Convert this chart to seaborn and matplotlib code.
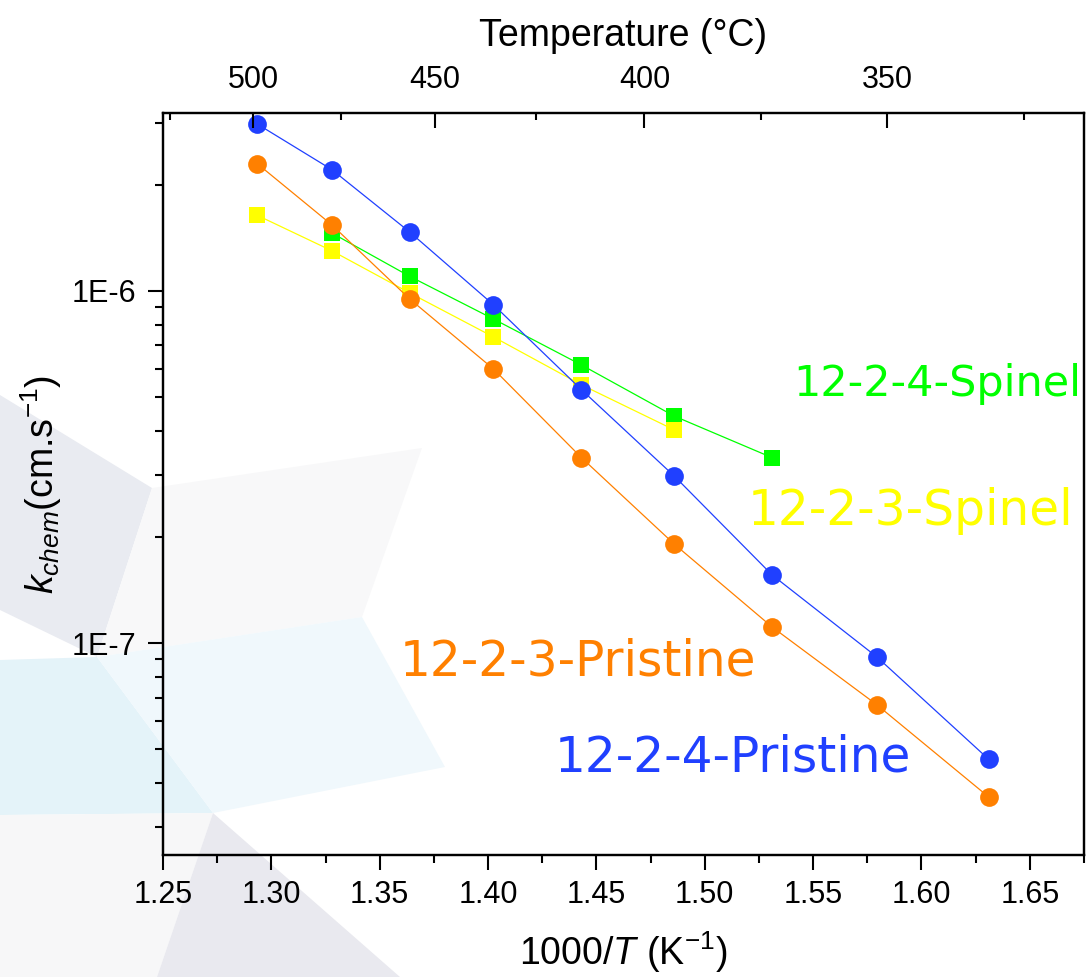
import numpy as np
import pandas as pd
import matplotlib
matplotlib.use("Agg")
import matplotlib.pyplot as plt
import seaborn as sns
from matplotlib.patches import Polygon
from matplotlib.ticker import FixedLocator, FixedFormatter, NullFormatter, LogLocator

# ---------------- data ----------------
inv_T = [1.2934, 1.3279, 1.3638, 1.4025, 1.4431, 1.4859, 1.5311, 1.5795, 1.6311]
k_124_pristine = [2.98e-6, 2.21e-6, 1.47e-6, 9.13e-7, 5.24e-7, 2.98e-7, 1.56e-7, 9.12e-8, 4.67e-8]
k_123_pristine = [2.30e-6, 1.54e-6, 9.49e-7, 6.00e-7, 3.36e-7, 1.91e-7, 1.11e-7, 6.67e-8, 3.65e-8]
inv_T_124_spinel = [1.3279, 1.3638, 1.4025, 1.4431, 1.4859, 1.5311]
k_124_spinel = [1.46e-6, 1.10e-6, 8.32e-7, 6.16e-7, 4.41e-7, 3.36e-7]
inv_T_123_spinel = [1.2934, 1.3279, 1.3638, 1.4025, 1.4431, 1.4859]
k_123_spinel = [1.64e-6, 1.30e-6, 9.87e-7, 7.40e-7, 5.41e-7, 4.03e-7]

x_ticks = [1.25, 1.30, 1.35, 1.40, 1.45, 1.50, 1.55, 1.60, 1.65]
y_ticks = [1e-7, 1e-6]
y_tick_labels = ["1E-7", "1E-6"]
temp_major = [500, 450, 400, 350]
temp_minor = [525, 475, 425, 375, 325]

series_names = ["12-2-4-Spinel", "12-2-3-Spinel", "12-2-3-Pristine", "12-2-4-Pristine"]
colors = {"12-2-4-Spinel": "#00ff00", "12-2-3-Spinel": "#ffff00",
          "12-2-3-Pristine": "#ff8000", "12-2-4-Pristine": "#2040ff"}

# ---------------- style ----------------
sns.set_theme(style="ticks")
plt.rcParams["font.family"] = ["Liberation Sans", "DejaVu Sans"]
plt.rcParams["mathtext.fontset"] = "custom"
plt.rcParams["mathtext.rm"] = "Liberation Sans"
plt.rcParams["mathtext.it"] = "Liberation Sans:italic"
plt.rcParams["text.color"] = "black"
plt.rcParams["axes.labelcolor"] = "black"
plt.rcParams["xtick.color"] = "black"
plt.rcParams["ytick.color"] = "black"

W, H = 1087, 977
fig = plt.figure(figsize=(W / 100, H / 100), dpi=100)
fig.patch.set_facecolor("white")

# faint background decoration (pixel coords)
bg_shapes = [
    ([(0, 395), (152, 488), (97, 657), (0, 610)], "#e9ebf1"),
    ([(152, 488), (422, 448), (362, 617), (97, 657)], "#f8f8f9"),
    ([(0, 660), (97, 657), (213, 813), (0, 815)], "#e4f3f9"),
    ([(97, 657), (362, 617), (445, 767), (213, 813)], "#f0f8fc"),
    ([(0, 815), (213, 813), (157, 977), (0, 977)], "#f7f7f8"),
    ([(213, 813), (400, 977), (157, 977)], "#e9e9ef"),
]
for pts, c in bg_shapes:
    fig.add_artist(Polygon([(x / W, 1 - y / H) for x, y in pts], closed=True,
                           transform=fig.transFigure, facecolor=c, edgecolor="none", zorder=-10))

ax = fig.add_axes([163 / W, 1 - 855 / H, (1084 - 163) / W, (855 - 113) / H])
ax.patch.set_alpha(0)

df = pd.concat([
    pd.DataFrame({"x": inv_T_124_spinel, "k": k_124_spinel, "s": "12-2-4-Spinel"}),
    pd.DataFrame({"x": inv_T_123_spinel, "k": k_123_spinel, "s": "12-2-3-Spinel"}),
    pd.DataFrame({"x": inv_T, "k": k_123_pristine, "s": "12-2-3-Pristine"}),
    pd.DataFrame({"x": inv_T, "k": k_124_pristine, "s": "12-2-4-Pristine"}),
])

for i, name in enumerate(series_names):
    d = df[df["s"] == name]
    marker = "s" if "Spinel" in name else "o"
    ms = 12 if marker == "s" else 13.5
    sns.lineplot(data=d, x="x", y="k", ax=ax, color=colors[name], marker=marker,
                 markersize=ms, markeredgewidth=0, linewidth=0.9, sort=False,
                 legend=False, zorder=3 + i)

ax.set_yscale("log")
ax.set_xlim(1.25, 1.675)
ax.set_ylim(2.5e-8, 3.2e-6)

for s in ax.spines.values():
    s.set_linewidth(1.6)
    s.set_color("black")

ax.xaxis.set_major_locator(FixedLocator(x_ticks))
ax.set_xticklabels([f"{v:.2f}" for v in x_ticks])
ax.xaxis.set_minor_locator(FixedLocator([v + 0.025 for v in x_ticks]))
ax.yaxis.set_major_locator(FixedLocator(y_ticks))
ax.yaxis.set_major_formatter(FixedFormatter(y_tick_labels))
ax.yaxis.set_minor_locator(LogLocator(base=10, subs=np.arange(2, 10)))
ax.yaxis.set_minor_formatter(NullFormatter())

ax.tick_params(axis="both", which="major", direction="out", length=11, width=1.5,
               labelsize=22, color="black", labelcolor="black")
ax.tick_params(axis="both", which="minor", direction="out", length=6, width=1.5, color="black")
ax.tick_params(axis="x", which="both", top=False, pad=7)
ax.tick_params(axis="y", which="both", right=False, pad=8)

ax.set_xlabel(r"1000/$T$ (K$^{-1}$)", fontsize=27, labelpad=14, color="black")
ax.set_ylabel(r"$k_{chem}$(cm.s$^{-1}$)", fontsize=27, labelpad=6, color="black")

# top temperature axis
ax2 = ax.twiny()
ax2.set_xlim(1.2493, 1.7012)
ax2.xaxis.set_major_locator(FixedLocator([1000 / (t + 273.15) for t in temp_major]))
ax2.set_xticklabels([str(t) for t in temp_major])
ax2.xaxis.set_minor_locator(FixedLocator([1000 / (t + 273.15) for t in temp_minor]))
ax2.tick_params(axis="x", which="major", direction="in", length=11, width=1.5,
                labelsize=22, pad=13, color="black", labelcolor="black")
ax2.tick_params(axis="x", which="minor", direction="in", length=5, width=1.5, color="black")
ax2.set_xlabel("Temperature (°C)", fontsize=27, labelpad=14, color="black")
for s in ax2.spines.values():
    s.set_linewidth(1.6)
    s.set_color("black")

# series labels: (left px, center px, fontsize)
labels_pos = {
    "12-2-4-Spinel": (793, 384, 31),
    "12-2-3-Spinel": (748, 511, 35),
    "12-2-3-Pristine": (400, 662, 35),
    "12-2-4-Pristine": (555, 758, 35),
}
for name, (px, py, fs) in labels_pos.items():
    fig.text(px / W, 1 - py / H, name, color=colors[name], fontsize=fs,
             family="DejaVu Sans", ha="left", va="center")

fig.savefig("out.png", dpi=100)
